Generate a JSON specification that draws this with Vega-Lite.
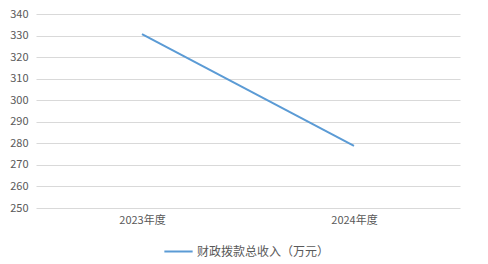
{
  "$schema": "https://vega.github.io/schema/vega-lite/v6.json",
  "width": 424,
  "height": 194,
  "autosize": {"type": "none"},
  "padding": {"left": 36, "top": 14, "right": 28, "bottom": 56},
  "background": "white",
  "data": {"values": [
    {"year": "2023年度", "value": 330.7, "series": "财政拨款总收入（万元）"},
    {"year": "2024年度", "value": 278.8, "series": "财政拨款总收入（万元）"}
  ]},
  "mark": {"type": "line", "strokeWidth": 2},
  "encoding": {
    "x": {"field": "year", "type": "nominal", "sort": null,
      "scale": {"paddingInner": 0, "paddingOuter": 0},
      "axis": {"title": null, "labelAngle": 0, "domain": false, "ticks": false, "labelPadding": 6, "grid": false}},
    "y": {"field": "value", "type": "quantitative",
      "scale": {"domain": [250, 340], "nice": false, "zero": false},
      "axis": {"title": null, "values": [250,260,270,280,290,300,310,320,330,340], "domain": false, "ticks": false, "labelPadding": 8, "gridColor": "#D9D9D9", "gridWidth": 1}},
    "color": {"field": "series", "type": "nominal",
      "scale": {"range": ["#5B9BD5"]},
      "legend": {"title": null, "orient": "none", "legendX": 127, "legendY": 222, "symbolType": "stroke", "symbolSize": 800, "symbolStrokeWidth": 2, "labelFontSize": 12, "labelColor": "#595959", "labelFont": "Noto Sans CJK SC", "labelOffset": 3}}
  },
  "config": {
    "view": {"stroke": null},
    "axis": {"labelFont": "Noto Sans CJK SC", "labelFontSize": 11, "labelColor": "#595959"}
  }
}
